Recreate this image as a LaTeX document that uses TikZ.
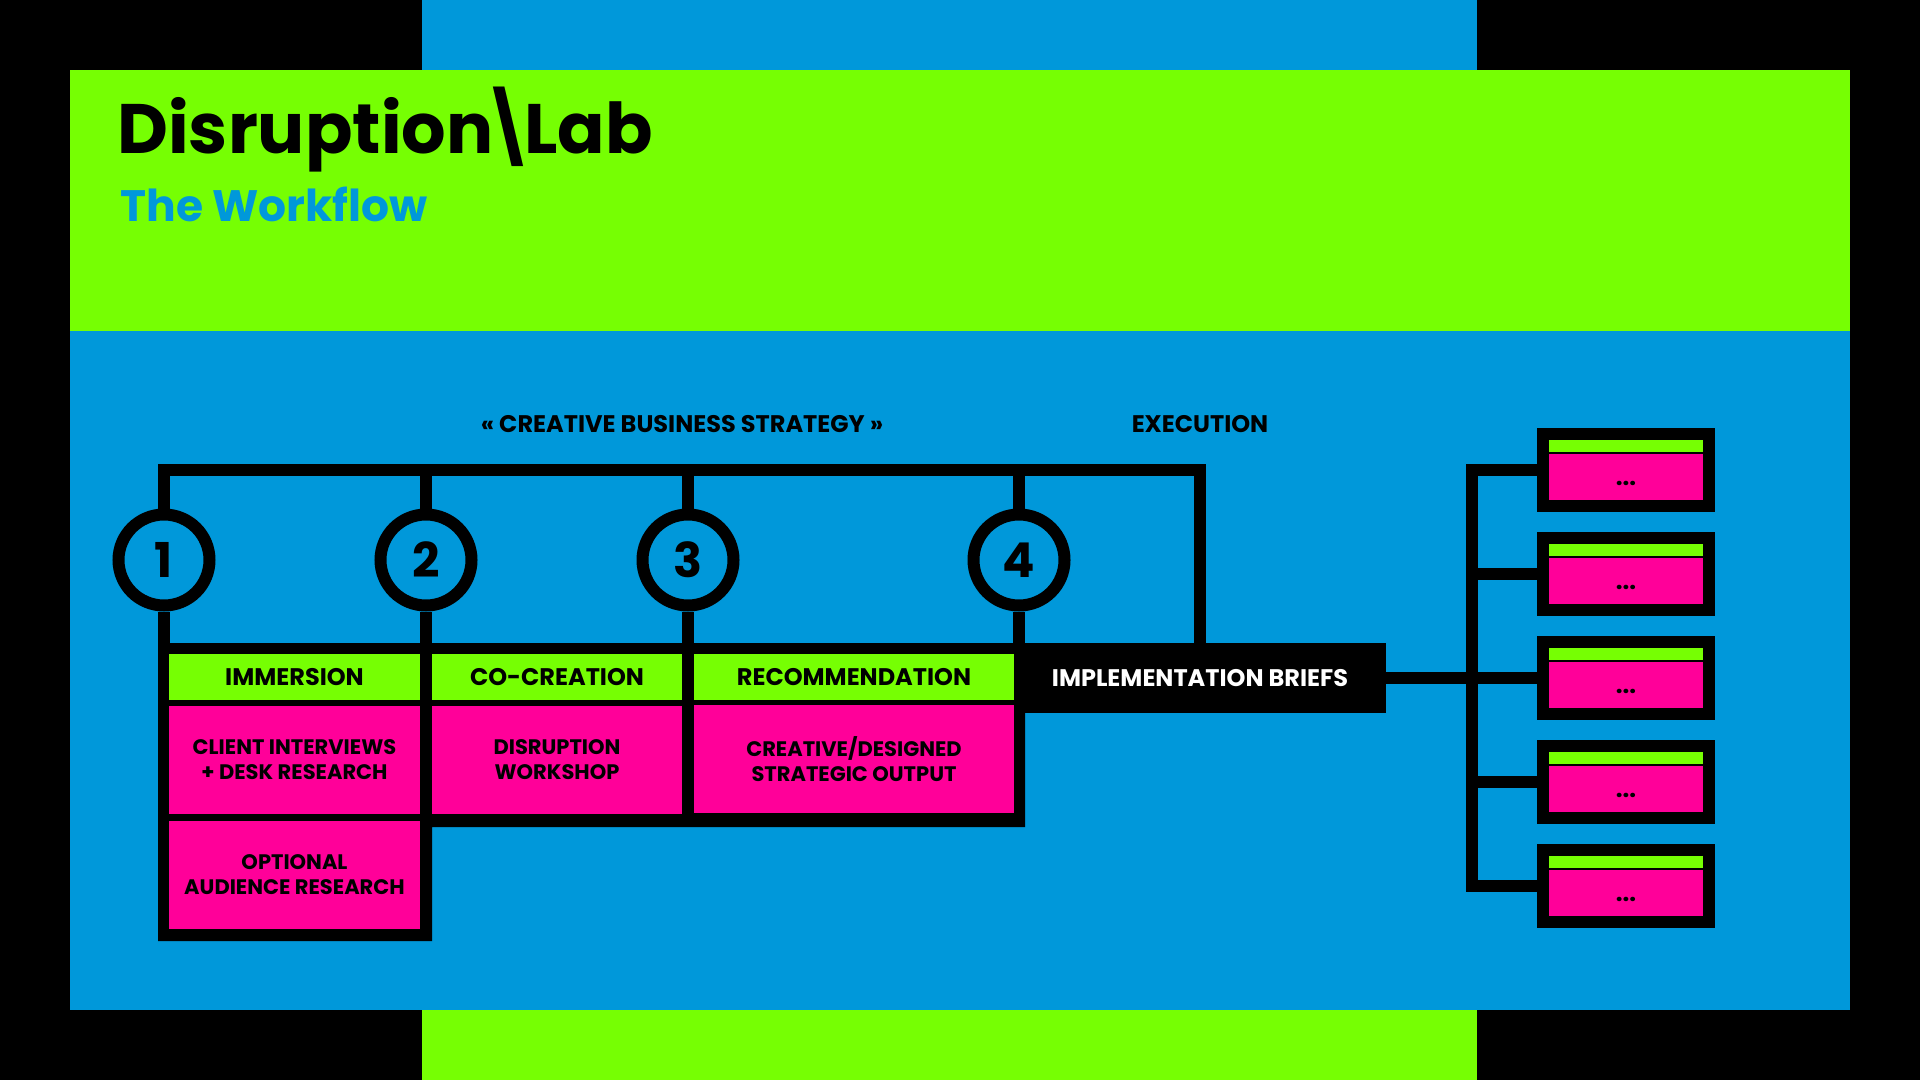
\documentclass[tikz,border=0pt]{standalone}
\usepackage{fontspec}
\setmainfont{Poppins}
\definecolor{lime}{RGB}{118,255,3}
\definecolor{sky}{RGB}{0,152,218}
\definecolor{hotpink}{RGB}{255,0,153}

\tikzset{
    bar/.style={line width=6pt,line join=miter},
    stage/.style={circle,draw,line width=6pt,fill=sky,minimum size=45.5pt,inner sep=0pt,
        font=\bfseries\fontsize{24}{24}\selectfont},
    phase/.style={fill=lime,inner sep=0pt,minimum height=23pt,
        font=\bfseries\fontsize{12}{14}\selectfont},
    task/.style={fill=hotpink,inner sep=0pt,minimum height=54pt,align=center,
        font=\bfseries\fontsize{10.5}{12.5}\selectfont},
    briefs/.style={fill=black,text=white,inner sep=0pt,minimum width=186pt,minimum height=35pt,
        font=\bfseries\fontsize{12}{14}\selectfont},
    outbox/.style={fill=black,inner sep=0pt,minimum width=89pt,minimum height=42pt,
        path picture={
            \fill[lime] ([shift={(6pt,-6pt)}]path picture bounding box.north west) rectangle ++(77pt,-6pt);
            \fill[hotpink] ([shift={(6pt,-13pt)}]path picture bounding box.north west) rectangle ++(77pt,-23pt);
            \node[anchor=base,font=\bfseries\fontsize{12}{14}\selectfont] at ([yshift=-28.5pt]path picture bounding box.north) {...};
        }},
    heading/.style={font=\bfseries\fontsize{12}{14}\selectfont}
}

\begin{document}
\begin{tikzpicture}[x=0.5pt,y=-0.5pt]
    % panels
    \fill[black] (0,0) rectangle (1920,1080);
    \fill[sky] (422,0) rectangle (1477,70);
    \fill[lime] (422,1010) rectangle (1477,1080);
    \fill[lime] (70,70) rectangle (1850,331);
    \fill[sky] (70,331) rectangle (1850,1010);

    \node[anchor=base west,inner sep=0pt,font=\fontseries{sb}\selectfont\fontsize{35}{40}\selectfont] (title) at (117,154) {Disruption\kern-0.18em\textbackslash\kern-0.18em Lab};
    \node[anchor=base west,inner sep=0pt,text=sky,font=\bfseries\fontsize{22}{26}\selectfont] (subtitle) at (120,222) {The Workflow};

    \node[heading] (strategy) at (682,424) {« CREATIVE BUSINESS STRATEGY »};
    \node[heading] (execution) at (1200,424) {EXECUTION};

    % table frame
    \fill[black] (158,643) -- (1025,643) -- (1025,827) -- (432,827) -- (432,941) -- (158,941) -- cycle;

    \node[phase,minimum width=125.5pt] (immersion) at (294.5,677) {IMMERSION};
    \node[phase,minimum width=125pt] (cocreation) at (557,677) {CO-CREATION};
    \node[phase,minimum width=160pt] (recommend) at (854,677) {RECOMMENDATION};
    \node[task,minimum width=125.5pt] (interviews) at (294.5,760) {CLIENT INTERVIEWS\\+ DESK RESEARCH};
    \node[task,minimum width=125pt] (workshop) at (557,760) {DISRUPTION\\WORKSHOP};
    \node[task,minimum width=160pt] (output) at (854,759) {CREATIVE/DESIGNED\\STRATEGIC OUTPUT};
    \node[task,minimum width=125.5pt] (audience) at (294.5,875) {OPTIONAL\\AUDIENCE RESEARCH};
    \node[briefs] (impl) at (1200,678) {IMPLEMENTATION BRIEFS};

    \node[stage] (s1) at (164,560) {1};
    \node[stage] (s2) at (426,560) {2};
    \node[stage] (s3) at (688,560) {3};
    \node[stage] (s4) at (1019,560) {4};

    \coordinate (topbar) at (0,470);
    \coordinate (tabletop) at (0,648);
    \coordinate (fork) at (1472,678);

    \draw[bar] (s1.north) -- (s1.north |- topbar) -- (impl.north |- topbar) -- (impl.north);
    \draw[bar] (s2.north) -- (s2.north |- topbar);
    \draw[bar] (s3.north) -- (s3.north |- topbar);
    \draw[bar] (s4.north) -- (s4.north |- topbar);
    \draw[bar] (s1.south) -- (s1.south |- tabletop);
    \draw[bar] (s2.south) -- (s2.south |- tabletop);
    \draw[bar] (s3.south) -- (s3.south |- tabletop);
    \draw[bar] (s4.south) -- (s4.south |- tabletop);

    \node[outbox] (out1) at (1626,470) {};
    \node[outbox] (out2) at (1626,574) {};
    \node[outbox] (out3) at (1626,678) {};
    \node[outbox] (out4) at (1626,782) {};
    \node[outbox] (out5) at (1626,886) {};

    \draw[bar] (impl.east) -- (fork);
    \draw[bar,line cap=rect] (out1.west -| fork) -- (out5.west -| fork);
    \draw[bar] (out1.west -| fork) -- (out1.west);
    \draw[bar] (out2.west -| fork) -- (out2.west);
    \draw[bar] (out3.west -| fork) -- (out3.west);
    \draw[bar] (out4.west -| fork) -- (out4.west);
    \draw[bar] (out5.west -| fork) -- (out5.west);
\end{tikzpicture}
\end{document}
